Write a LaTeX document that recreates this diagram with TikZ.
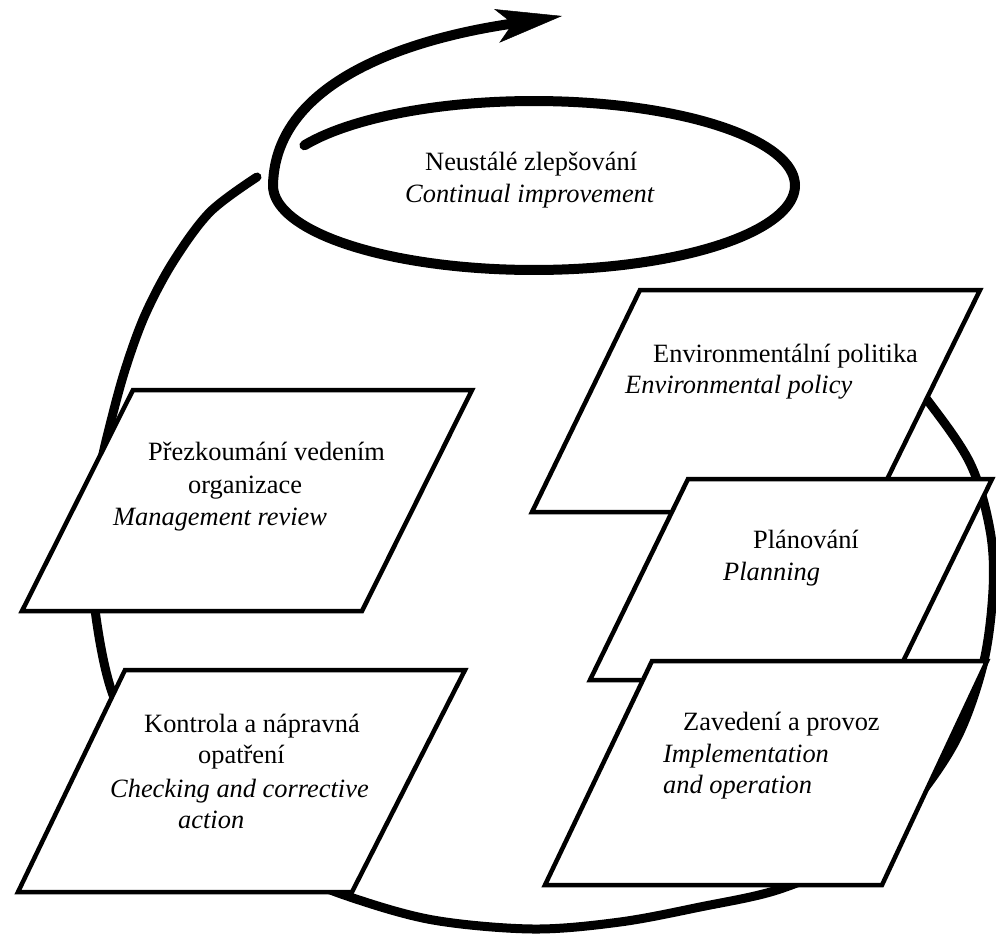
\documentclass[tikz,border=0pt]{standalone}
\usepackage{fontspec}
\setmainfont{Liberation Serif}
\usetikzlibrary{arrows.meta}
\begin{document}
\begin{tikzpicture}[x=1pt,y=-1pt,
  loopline/.style={line width=9pt, line cap=round},
  spiral/.style={line width=10pt, line cap=round},
  para/.style={draw, fill=white, line width=4.5pt, line join=miter},
  lbl/.style={anchor=base west, inner sep=0pt, font=\fontsize{26.4}{31.5}\selectfont},
  itl/.style={lbl, font=\fontsize{26.4}{31.5}\selectfont\itshape}]
\useasboundingbox (0,0) rectangle (996,935);

% big cycle (behind the boxes)
\draw[loopline] plot[smooth, tension=0.55] coordinates {(870,330) (925,397) (970,463) (990,530) (993,590) (983,665) (955,742) (905,812) (845,860) (777,890) (700,907) (620,922) (533,929) (433,920) (350,897) (290,872) (220,830) (150,765) (113,695) (96,617) (91,540) (100,470) (110,425) (125,370) (145,315) (173,262) (210,212) (257,177)};

% continual improvement spiral
\draw[spiral, -{Stealth[length=66pt, width=34pt, inset=16pt, line width=0.5pt]}]
  plot[domain=208.4:540, samples=150] ({534+261*cos(\x)}, {185.5+84.5*sin(\x)})
  .. controls (275,60) and (470,30) .. (562,16);
\node[lbl] (ci1) at (425,170) {Neustálé zlepšování};
\node[itl] (ci2) at (405,202) {Continual improvement};

% environmental policy
\draw[para] (640,290) -- (980,290) -- (871,512) -- (532,512) -- cycle;
\node[lbl] (ep1) at (653,362) {Environmentální politika};
\node[itl] (ep2) at (625,393) {Environmental policy};

% planning
\draw[para] (688,479) -- (992,479) -- (894,680) -- (590,680) -- cycle;
\node[lbl] (pl1) at (753,548) {Plánování};
\node[itl] (pl2) at (723,580) {Planning};

% implementation
\draw[para] (652,661) -- (987,661) -- (882,885) -- (545,885) -- cycle;
\node[lbl] (im1) at (683,730) {Zavedení a provoz};
\node[itl] (im2) at (663,762) {Implementation};
\node[itl] (im3) at (663,793) {and operation};

% management review
\draw[para] (133,390) -- (472,390) -- (362,611) -- (22,611) -- cycle;
\node[lbl] (mr1) at (148,460) {Přezkoumání vedením};
\node[lbl] (mr2) at (188,493) {organizace};
\node[itl] (mr3) at (113,525) {Management review};

% checking and corrective action
\draw[para] (125,670) -- (465,670) -- (352,892) -- (18,892) -- cycle;
\node[lbl] (ck1) at (144,732) {Kontrola a nápravná};
\node[lbl] (ck2) at (198,763) {opatření};
\node[itl] (ck3) at (110,797) {Checking and corrective};
\node[itl] (ck4) at (178,828) {action};
\end{tikzpicture}
\end{document}
